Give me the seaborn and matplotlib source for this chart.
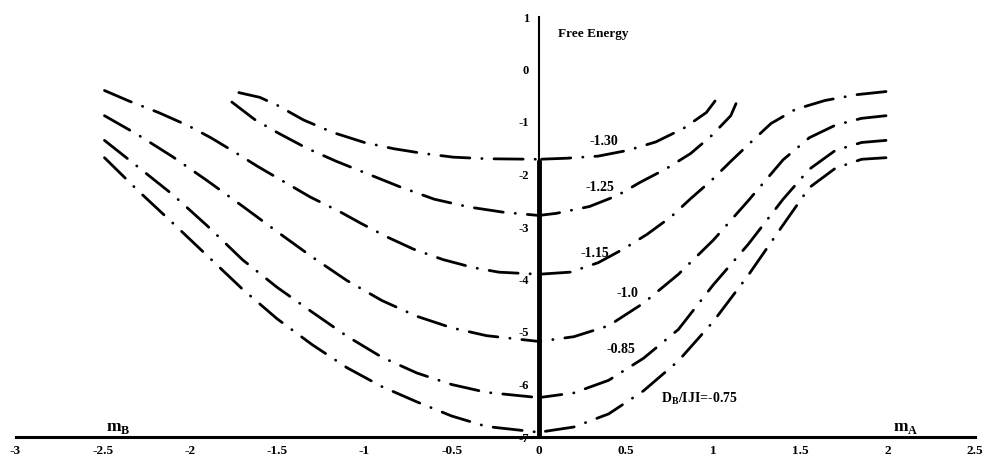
import matplotlib
matplotlib.use("Agg")
import matplotlib.pyplot as plt
import seaborn as sns

# ---- data ----
L130_x = [-1.72, -1.60, -1.50, -1.35, -1.18, -1.00, -0.83, -0.66, -0.49, -0.30, 0.0]
L130_y = [-0.44, -0.53, -0.68, -0.96, -1.20, -1.39, -1.51, -1.60, -1.67, -1.70, -1.71]
R130_x = [1.01, 0.96, 0.83, 0.67, 0.51, 0.34, 0.16, 0.0]
R130_y = [-0.60, -0.82, -1.12, -1.38, -1.54, -1.65, -1.69, -1.71]

L125_x = [-1.76, -1.63, -1.50, -1.33, -1.16, -0.98, -0.80, -0.60, -0.40, -0.20, 0.0]
L125_y = [-0.62, -0.95, -1.20, -1.50, -1.75, -1.99, -2.23, -2.47, -2.62, -2.72, -2.78]
R125_x = [1.13, 1.10, 0.99, 0.87, 0.73, 0.58, 0.45, 0.29, 0.10, 0.0]
R125_y = [-0.65, -0.88, -1.26, -1.60, -1.89, -2.15, -2.40, -2.61, -2.74, -2.78]

L115_x = [-2.49, -2.35, -2.18, -2.01, -1.88, -1.75, -1.61, -1.46, -1.31, -1.14, -1.02, -0.87, -0.72, -0.55, -0.38, -0.23, 0.0]
L115_y = [-0.40, -0.60, -0.82, -1.07, -1.30, -1.56, -1.85, -2.14, -2.43, -2.71, -2.93, -3.19, -3.42, -3.62, -3.77, -3.86, -3.90]
R115_x = [1.99, 1.82, 1.64, 1.47, 1.33, 1.22, 1.10, 0.99, 0.87, 0.76, 0.62, 0.49, 0.34, 0.18, 0.0]
R115_y = [-0.42, -0.48, -0.59, -0.76, -1.03, -1.37, -1.75, -2.11, -2.46, -2.80, -3.14, -3.41, -3.68, -3.86, -3.90]

L100_x = [-2.49, -2.30, -2.10, -1.90, -1.70, -1.50, -1.30, -1.10, -0.90, -0.70, -0.50, -0.30, 0.0]
L100_y = [-0.88, -1.24, -1.66, -2.12, -2.60, -3.09, -3.57, -4.02, -4.40, -4.70, -4.92, -5.07, -5.18]
R100_x = [1.99, 1.85, 1.70, 1.55, 1.40, 1.20, 1.00, 0.80, 0.60, 0.40, 0.20, 0.0]
R100_y = [-0.88, -0.93, -1.06, -1.30, -1.72, -2.50, -3.25, -3.90, -4.45, -4.88, -5.09, -5.18]

L085_x = [-2.49, -2.30, -2.10, -1.90, -1.70, -1.50, -1.30, -1.10, -0.90, -0.70, -0.50, -0.30, 0.0]
L085_y = [-1.35, -1.85, -2.38, -2.98, -3.62, -4.15, -4.62, -5.08, -5.48, -5.78, -6.00, -6.15, -6.25]
R085_x = [1.99, 1.85, 1.70, 1.55, 1.40, 1.20, 1.00, 0.80, 0.60, 0.40, 0.20, 0.0]
R085_y = [-1.35, -1.39, -1.54, -1.90, -2.47, -3.33, -4.10, -4.95, -5.50, -5.92, -6.16, -6.25]

L075_x = [-2.49, -2.30, -2.10, -1.90, -1.70, -1.50, -1.30, -1.10, -0.90, -0.70, -0.50, -0.30, 0.0]
L075_y = [-1.68, -2.30, -2.92, -3.55, -4.18, -4.75, -5.24, -5.68, -6.04, -6.33, -6.60, -6.80, -6.91]
R075_x = [1.99, 1.85, 1.70, 1.55, 1.40, 1.20, 1.00, 0.80, 0.60, 0.40, 0.20, 0.0]
R075_y = [-1.68, -1.71, -1.88, -2.25, -2.96, -3.92, -4.80, -5.55, -6.12, -6.56, -6.81, -6.91]

band_x = [0.0, 0.0]
band_y = [-1.75, -7.0]

curve_labels = ["-1.30", "-1.25", "-1.15.", "-1.0", "-0.85"]
label_x = [0.37, 0.35, 0.33, 0.51, 0.47]
label_y = [-1.37, -2.25, -3.50, -4.27, -5.33]

x_ticks = [-3, -2.5, -2, -1.5, -1, -0.5, 0, 0.5, 1, 1.5, 2, 2.5]
y_ticks = [1, 0, -1, -2, -3, -4, -5, -6, -7]

# ---- styling ----
sns.set_theme(style="white")
plt.rcParams["font.family"] = ["Liberation Serif", "DejaVu Serif"]
plt.rcParams["font.weight"] = "bold"
plt.rcParams["mathtext.fontset"] = "custom"
plt.rcParams["mathtext.rm"] = "Liberation Serif:bold"
plt.rcParams["mathtext.bf"] = "Liberation Serif:bold"

fig = plt.figure(figsize=(9.86, 4.62), dpi=100)
ax = fig.add_axes([15.5 / 986, 25 / 462, 959.5 / 986, 420 / 462])

dashstyle = (0, (10.5, 4.3, 0.1, 4.3))
branches = [(L130_x, L130_y), (R130_x, R130_y), (L125_x, L125_y), (R125_x, R125_y),
            (L115_x, L115_y), (R115_x, R115_y), (L100_x, L100_y), (R100_x, R100_y),
            (L085_x, L085_y), (R085_x, R085_y), (L075_x, L075_y), (R075_x, R075_y)]
for bx, by in branches:
    sns.lineplot(x=bx, y=by, ax=ax, sort=False, estimator=None, color="black",
                 linewidth=2.0, linestyle=dashstyle, dash_capstyle="round")

sns.lineplot(x=band_x, y=band_y, ax=ax, sort=False, estimator=None,
             color="black", linewidth=3.5)

ax.set_xlim(-3, 2.5)
ax.set_ylim(-7, 1)
ax.set_xticks(x_ticks)
ax.set_xticklabels([f"{t:g}" for t in x_ticks])
ax.set_yticks(y_ticks)
ax.set_yticklabels([f"{t:g}" for t in y_ticks])

for s in ["top", "right"]:
    ax.spines[s].set_visible(False)
ax.spines["left"].set_position(("data", 0))
ax.spines["left"].set_linewidth(1.5)
ax.spines["bottom"].set_linewidth(2.2)
ax.spines["left"].set_color("black")
ax.spines["bottom"].set_color("black")

ax.tick_params(axis="x", direction="inout", length=7, width=1.5, labelsize=9.5, pad=2, colors="black")
ax.tick_params(axis="y", direction="out", length=4, width=1.2, labelsize=9, pad=3, colors="black")
for lab in ax.get_xticklabels() + ax.get_yticklabels():
    lab.set_fontweight("bold")
ax.grid(False)

for txt, tx, ty in zip(curve_labels, label_x, label_y):
    ax.text(tx, ty, txt, fontsize=10, fontweight="bold", ha="center", va="center", color="black")

ax.text(0.31, 0.67, "Free Energy", fontsize=9.5, fontweight="bold", ha="center", va="center", color="black")
ax.text(0.70, -6.27, r"$\mathbf{D}_{\mathbf{B}}$/IJI=-0.75", fontsize=10, fontweight="bold",
        ha="left", va="center", color="black")
ax.text(-2.41, -6.82, r"$\mathbf{m}_{\mathbf{B}}$", fontsize=12.5, ha="center", va="center", color="black")
ax.text(2.10, -6.82, r"$\mathbf{m}_{\mathbf{A}}$", fontsize=12.5, ha="center", va="center", color="black")

fig.savefig("out.png", dpi=100, facecolor="white")
